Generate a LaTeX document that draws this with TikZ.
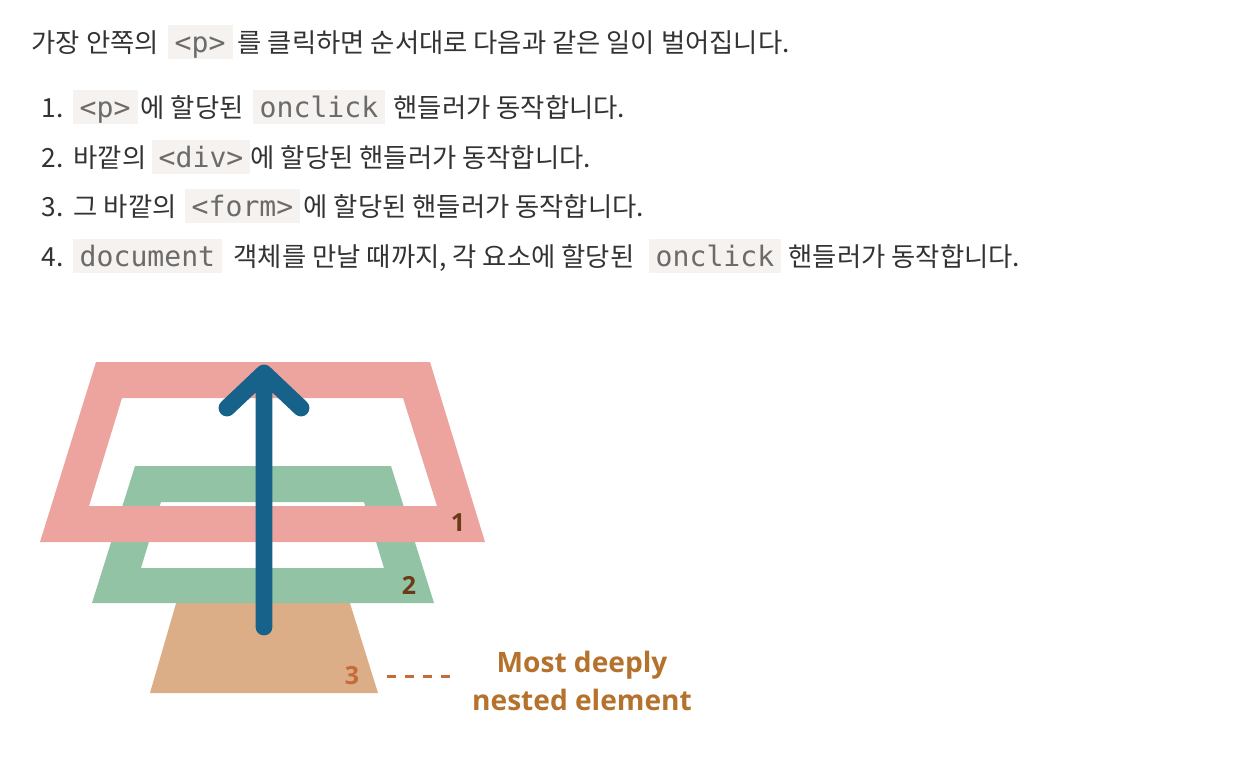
\documentclass[tikz,border=0pt]{standalone}
\usepackage{fontspec}
\setmainfont{Noto Sans CJK KR}
\setmonofont{DejaVu Sans Mono}
\newfontfamily\labelfont{Open Sans}
\definecolor{ink}{HTML}{333333}
\definecolor{codebg}{HTML}{F5F2F0}
\definecolor{codeink}{HTML}{6B6B6B}
\definecolor{rose}{HTML}{EDA49F}
\definecolor{sage}{HTML}{93C3A5}
\definecolor{tan}{HTML}{DBAE88}
\definecolor{deepblue}{HTML}{17628A}
\definecolor{umber}{HTML}{6B3A18}
\definecolor{rust}{HTML}{C56A3A}
\definecolor{amber}{HTML}{B5722D}

\begin{document}
\begin{tikzpicture}[x=0.1mm,y=-0.1mm,
  txt/.style={anchor=base west,inner sep=0pt,text=ink,
    font=\fontsize{7.5pt}{9pt}\selectfont},
  code/.style={anchor=base west,fill=codebg,text=codeink,inner xsep=2pt,
    inner ysep=0pt,text height=7.9pt,text depth=1.7pt,
    font=\ttfamily\fontsize{8pt}{9pt}\selectfont},
  num/.style={inner sep=0pt,text=umber,
    font=\labelfont\bfseries\fontsize{7.1pt}{8pt}\selectfont}]
  \useasboundingbox (0,0) rectangle (1238,756);
  \fill[white] (0,0) rectangle (1238,756);

  \node[txt] (introA) at (31,53) {가장 안쪽의};
  \node[code] (introP) at (167,53) {<p>};
  \node[txt] (introB) at (237,53) {를 클릭하면 순서대로 다음과 같은 일이 벌어집니다.};

  \node[txt] (oneN) at (41,118) {1.};
  \node[code] (oneP) at (72,118) {<p>};
  \node[txt] (oneA) at (140,118) {에 할당된};
  \node[code] (oneC) at (252,118) {onclick};
  \node[txt] (oneB) at (393,118) {핸들러가 동작합니다.};

  \node[txt] (twoN) at (41,168) {2.};
  \node[txt] (twoA) at (73,168) {바깥의};
  \node[code] (twoD) at (151,168) {<div>};
  \node[txt] (twoB) at (250,168) {에 할당된 핸들러가 동작합니다.};

  \node[txt] (threeN) at (41,217) {3.};
  \node[txt] (threeA) at (73,217) {그 바깥의};
  \node[code] (threeF) at (184,217) {<form>};
  \node[txt] (threeB) at (303,217) {에 할당된 핸들러가 동작합니다.};

  \node[txt] (fourN) at (41,267) {4.};
  \node[code] (fourD) at (72,267) {document};
  \node[txt] (fourA) at (233,267) {객체를 만날 때까지, 각 요소에 할당된};
  \node[code] (fourC) at (648,267) {onclick};
  \node[txt] (fourB) at (788,267) {핸들러가 동작합니다.};

  \fill[tan] (177,600) -- (349,600) -- (378,693) -- (150,693) -- cycle;
  \fill[sage,even odd rule] (135,466) -- (391,466) -- (434,603) -- (92,603) -- cycle
    (161,502) -- (364,502) -- (384,568) -- (141,568) -- cycle;
  \fill[rose,even odd rule] (96,362) -- (430,362) -- (485,542) -- (40,542) -- cycle
    (122,398) -- (403,398) -- (437,506) -- (89,506) -- cycle;

  \draw[deepblue,line width=4.8pt,line cap=round,line join=round]
    (264,627) -- (264,376)
    (227,408) -- (264,373) -- (301,408);

  \node[num] (lvA) at (458,523) {1};
  \node[num] (lvB) at (409,585) {2};
  \node[num,text=rust] (lvC) at (352,676) {3};
  \node[align=center,inner sep=0pt,text=amber,
    font=\labelfont\bfseries\fontsize{8pt}{10.8pt}\selectfont]
    (deep) at (582,681) {Most deeply\\nested element};
  \coordinate (dashA) at (387,676);
  \coordinate (dashB) at (450,676);
  \draw[rust,line width=0.85pt,dash pattern=on 0.9mm off 0.9mm] (dashA) -- (dashB);
\end{tikzpicture}
\end{document}
